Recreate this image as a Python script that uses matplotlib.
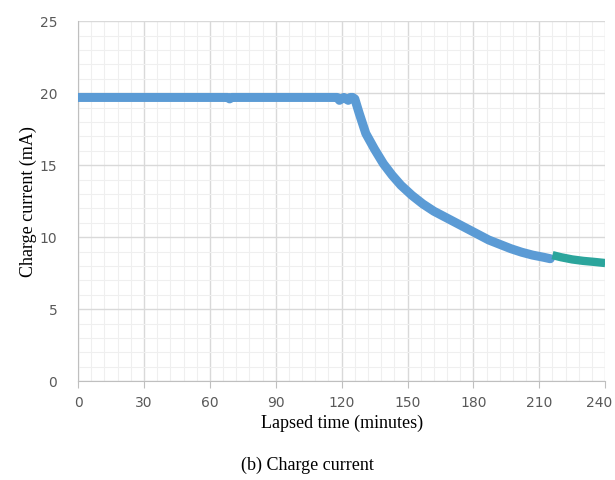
import matplotlib
matplotlib.use("Agg")
import matplotlib.pyplot as plt
from matplotlib.ticker import MultipleLocator
from matplotlib.transforms import ScaledTranslation

# charge phase (blue)
time_cc = [0, 30, 60, 68, 69, 70, 90, 115, 118, 119, 120, 121, 122, 123, 124, 125, 126,
           128, 131, 135, 139, 143, 147, 152, 157, 162, 167, 172, 177, 182, 187, 192,
           197, 202, 207, 212, 215]
current_cc = [19.7, 19.7, 19.7, 19.7, 19.6, 19.7, 19.7, 19.7, 19.7, 19.5, 19.6, 19.7, 19.6,
              19.5, 19.7, 19.7, 19.6, 18.6, 17.2, 16.1, 15.1, 14.3, 13.6, 12.9, 12.3, 11.8,
              11.4, 11.0, 10.6, 10.2, 9.8, 9.5, 9.2, 8.95, 8.75, 8.6, 8.5]
# end of charge (teal)
time_end = [216, 220, 225, 230, 235, 240]
current_end = [8.75, 8.6, 8.45, 8.35, 8.28, 8.2]

x_ticks = [0, 30, 60, 90, 120, 150, 180, 210, 240]
y_ticks = [0, 5, 10, 15, 20, 25]

fig = plt.figure(figsize=(6.15, 4.8), dpi=100)
ax = fig.add_axes([0.127, 0.206, 0.857, 0.75])

ax.plot(time_cc, current_cc, color="#5B9BD5", lw=6.5, solid_capstyle="round", zorder=3)
ax.plot(time_end, current_end, color="#2BA59C", lw=6, solid_capstyle="butt", zorder=3)

ax.set_xlim(0, 240)
ax.set_ylim(0, 25)
ax.set_xticks(x_ticks)
ax.set_yticks(y_ticks)
ax.xaxis.set_minor_locator(MultipleLocator(6))
ax.yaxis.set_minor_locator(MultipleLocator(1))
ax.grid(which="major", color="#d9d9d9", lw=1)
ax.grid(which="minor", color="#efefef", lw=0.8)
ax.set_axisbelow(True)

for s in ["top", "right"]:
    ax.spines[s].set_visible(False)
for s in ["left", "bottom"]:
    ax.spines[s].set_color("#bfbfbf")
ax.tick_params(which="both", length=0, labelsize=10, labelcolor="#595959")
ax.tick_params(axis="x", which="major", length=5, color="#bfbfbf", direction="out", pad=6)
ax.tick_params(axis="y", which="major", pad=15)
for lbl in ax.get_xticklabels() + ax.get_yticklabels():
    lbl.set_family("DejaVu Sans")
# keep the last x label inside the figure
last = ax.get_xticklabels()[-1]
last.set_transform(last.get_transform() + ScaledTranslation(-4 / 72, 0, fig.dpi_scale_trans))

ax.set_xlabel("Lapsed time (minutes)", family="Liberation Serif", fontsize=13, labelpad=3)
ax.set_ylabel("Charge current (mA)", family="Liberation Serif", fontsize=13, labelpad=2)

fig.text(0.5, 0.02, "(b) Charge current", ha="center", family="Liberation Serif", fontsize=13)

fig.savefig("out.png", dpi=100)
